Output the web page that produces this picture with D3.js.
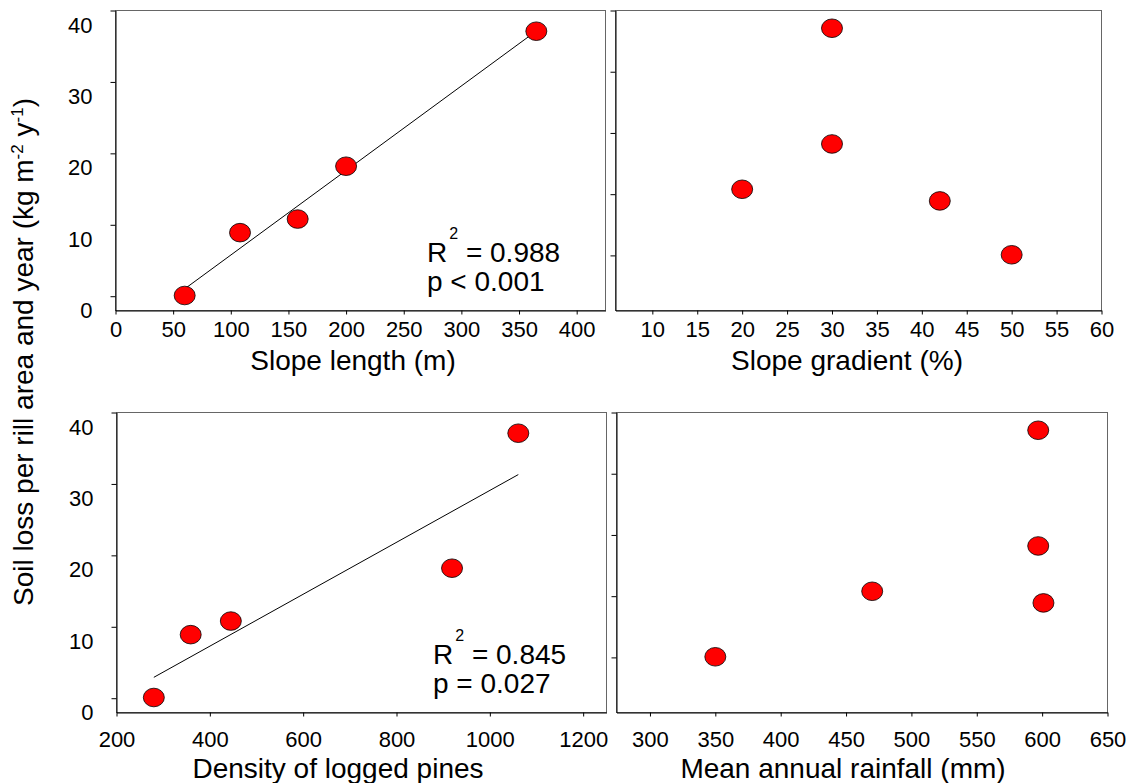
<!DOCTYPE html>
<html>
<head>
<meta charset="utf-8">
<script src="https://cdn.jsdelivr.net/npm/d3@7"></script>
<style>
  body { margin: 0; background: #fff; }
  text { font-family: Arial, "Liberation Sans", sans-serif; fill: #000; }
</style>
</head>
<body>
<svg id="chart" width="1129" height="783"></svg>
<script>
// soil loss per site (kg m-2 y-1), same five sites in every panel
var soilLoss = [0.1, 8.9, 10.8, 18.2, 37.1];
var slopeLength = [60, 108, 158, 200, 365];
var slopeGradient = [50, 42, 20, 30, 30];
var pineDensity = [280, 359, 445, 919, 1061];
var rainfall = [350, 601, 470, 597, 597];

// tick labels
var soilTicks = [0, 10, 20, 30, 40];
var lengthTicks = [0, 50, 100, 150, 200, 250, 300, 350, 400];
var gradientTicks = [10, 15, 20, 25, 30, 35, 40, 45, 50, 55, 60];
var densityTicks = [200, 400, 600, 800, 1000, 1200];
var rainfallTicks = [300, 350, 400, 450, 500, 550, 600, 650];

var svg = d3.select('#chart');

var panels = [
  { xs: slopeLength, xDomain: [0, 425], xTicks: lengthTicks, yDomain: [-2, 40], yLabels: true,
    left: 115.5, right: 605.5, top: 10.5, bottom: 310.5, xPad: 7,
    title: 'Slope length (m)', titleX: 353, titleY: 370,
    fit: true, r2: ' = 0.988', p: 'p < 0.001', noteX: 427 },
  { xs: slopeGradient, xDomain: [5.9, 60], xTicks: gradientTicks, yDomain: [-9, 40], yLabels: false,
    left: 615.5, right: 1101.5, top: 10.5, bottom: 310.5, xPad: 7,
    title: 'Slope gradient (%)', titleX: 847, titleY: 370 },
  { xs: pineDensity, xDomain: [200, 1250], xTicks: densityTicks, yDomain: [-2, 40], yLabels: true,
    left: 116.5, right: 606.5, top: 412.5, bottom: 712.5, xPad: 15,
    title: 'Density of logged pines', titleX: 338, titleY: 778,
    fit: true, r2: ' = 0.845', p: 'p = 0.027', noteX: 433 },
  { xs: rainfall, xDomain: [274.4, 650], xTicks: rainfallTicks, yDomain: [-9, 40], yLabels: false,
    left: 616.5, right: 1107.5, top: 412.5, bottom: 712.5, xPad: 15,
    title: 'Mean annual rainfall (mm)', titleX: 843, titleY: 778 }
];

// least squares line
function linFit(xs, ys) {
  var mx = d3.mean(xs), my = d3.mean(ys);
  var sxy = d3.sum(xs, function(v, i) { return (v - mx) * (ys[i] - my); });
  var sxx = d3.sum(xs, function(v) { return (v - mx) * (v - mx); });
  var b = sxy / sxx;
  return { a: my - b * mx, b: b };
}

panels.forEach(function(p) {
  var x = d3.scaleLinear().domain(p.xDomain).range([p.left, p.right]);
  var y = d3.scaleLinear().domain(p.yDomain).range([p.bottom, p.top]);
  var g = svg.append('g');

  // box round the plot
  g.append('rect')
    .attr('x', p.left).attr('y', p.top)
    .attr('width', p.right - p.left).attr('height', p.bottom - p.top)
    .attr('fill', 'none').attr('stroke', '#666').attr('stroke-width', 1);

  var xAxis = g.append('g')
    .attr('transform', 'translate(0,' + p.bottom + ')')
    .call(d3.axisBottom(x).tickValues(p.xTicks).tickSize(4).tickSizeOuter(0)
      .tickPadding(p.xPad).tickFormat(d3.format('d')));
  xAxis.attr('font-size', 22).attr('font-family', 'Arial, "Liberation Sans", sans-serif');

  var yAxis = g.append('g')
    .attr('transform', 'translate(' + p.left + ',0)')
    .call(d3.axisLeft(y).tickValues(soilTicks).tickSize(5).tickSizeOuter(0).tickPadding(18)
      .tickFormat(p.yLabels ? d3.format('d') : function() { return ''; }));
  yAxis.attr('font-size', 22).attr('font-family', 'Arial, "Liberation Sans", sans-serif');
  yAxis.selectAll('.tick text').attr('dy', '0.98em');

  [xAxis, yAxis].forEach(function(ax) {
    ax.select('.domain').attr('stroke', '#000');
    ax.selectAll('.tick line').attr('stroke', '#000');
  });

  if (p.fit) {
    var f = linFit(p.xs, soilLoss);
    var ext = d3.extent(p.xs);
    g.append('line')
      .attr('x1', x(ext[0])).attr('y1', y(f.a + f.b * ext[0]))
      .attr('x2', x(ext[1])).attr('y2', y(f.a + f.b * ext[1]))
      .attr('stroke', '#000').attr('stroke-width', 1);

    var note = g.append('text')
      .attr('x', p.noteX).attr('y', p.top + 251)
      .attr('font-size', 28);
    note.append('tspan').text('R');
    note.append('tspan').attr('font-size', 16).attr('dx', 2).attr('dy', -23).text('2');
    note.append('tspan').attr('dy', 23).text(p.r2);
    g.append('text')
      .attr('x', p.noteX).attr('y', p.top + 280)
      .attr('font-size', 28)
      .text(p.p);
  }

  g.selectAll('ellipse')
    .data(p.xs)
    .enter()
    .append('ellipse')
    .attr('cx', function(d) { return x(d); })
    .attr('cy', function(d, i) { return y(soilLoss[i]); })
    .attr('rx', 10.5)
    .attr('ry', 9.3)
    .attr('fill', '#ff0000')
    .attr('stroke', '#000')
    .attr('stroke-width', 0.8);

  g.append('text')
    .attr('x', p.titleX).attr('y', p.titleY)
    .attr('text-anchor', 'middle')
    .attr('font-size', 28)
    .text(p.title);
});

// shared y title
var yTitle = svg.append('text')
  .attr('transform', 'translate(33,352) rotate(-90)')
  .attr('text-anchor', 'middle')
  .attr('font-size', 28);
yTitle.append('tspan').text('Soil loss per rill area and year (kg m');
yTitle.append('tspan').attr('font-size', 17).attr('dy', -10).text('-2');
yTitle.append('tspan').attr('dy', 10).text(' y');
yTitle.append('tspan').attr('font-size', 17).attr('dy', -10).text('-1');
yTitle.append('tspan').attr('dy', 10).text(')');
</script>
</body>
</html>
